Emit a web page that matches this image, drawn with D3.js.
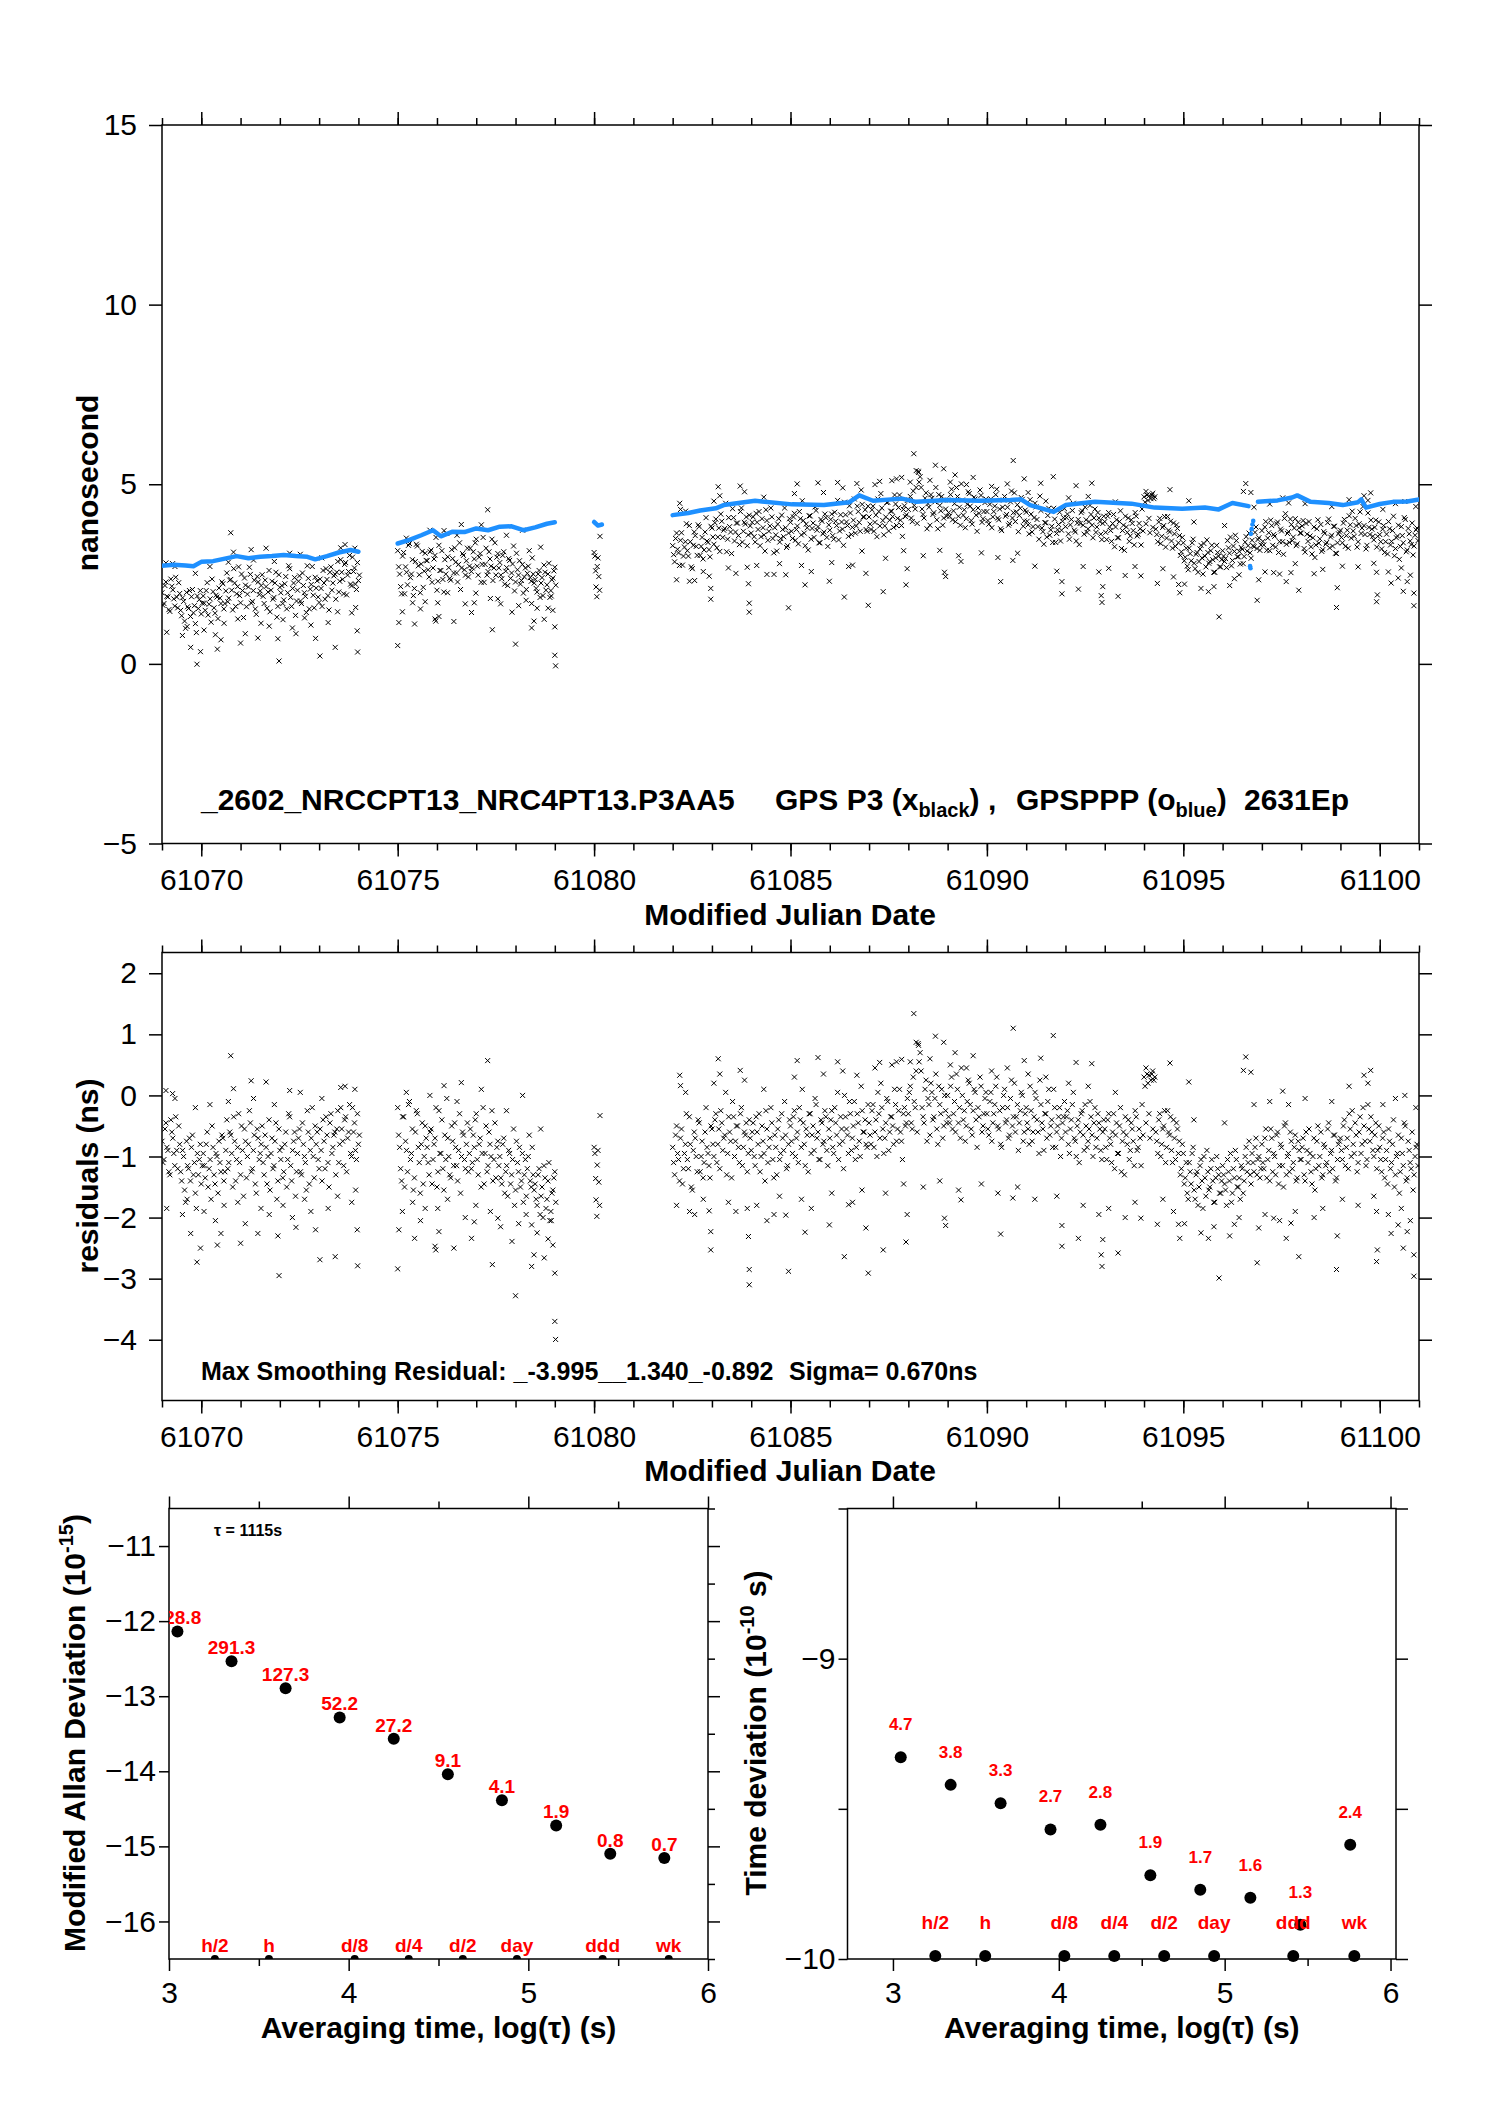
<!DOCTYPE html>
<html><head><meta charset="utf-8">
<script src="https://cdn.jsdelivr.net/npm/d3@7/dist/d3.min.js"></script>
<style>
body{margin:0;background:#fff;}
svg{display:block;background:#fff;}
text{white-space:pre;}
</style></head><body>
<svg id="chart" width="1488" height="2105"></svg>
<script>
// ---------------- DATA ----------------
const mjdDomain=[61069,61101];
const mjdTickLabels=[61070,61075,61080,61085,61090,61095,61100];
const topYDomain=[-5,15];
const topYTicks=[15,10,5,0,-5];
const residYTicks=[2,1,0,-1,-2,-3,-4];
const resStep=0.05;

// Smoothing residuals (P3 - PPP), ns, regular 0.05 d sampling per segment
const resSeg1Start=61069.0;
const resSeg1=[-0.75,-1.05,-0.45,-0.90,-1.30,-0.60,-0.95,-0.35,-1.20,
-0.80,-1.40,-1.00,-1.75,-1.15,-0.70,-0.85,-1.30,-1.60,-0.95,-1.05,-1.45,
-0.95,-1.35,-0.60,-1.20,-1.70,-0.85,-1.45,-1.00,-0.75,-1.25,-0.70,-1.25,
-0.40,-1.10,-0.65,-1.50,-0.75,-1.05,-0.30,-1.30,-0.90,-0.55,-1.35,-0.80,-0.45,-1.20,-0.65,-1.60,-0.70,-0.95,
-0.50,-1.30,-0.85,-1.00,-1.55,-0.70,-1.15,-0.45,-1.40,-0.90,-0.85,-1.25,-0.60,-1.05,-0.35,-1.40,-0.75,-1.65,
-0.95,-0.55,-1.30,-0.80,-1.10,-0.25,-1.45,-0.70,-1.00,-0.50,-0.60,-1.20,-0.90,-0.40,-1.20,-0.65,
-1.50,-0.30,-0.85,-0.60,-0.55,-1.10,-0.20,-0.75,-0.40,-1.25,-0.60,-0.95,-0.20,-0.45,-1.05,-0.80];
const resSeg1bStart=61069.025;
const resSeg1b=[-1.10,-0.55,-0.85,-1.25,-0.40,-0.70,-1.15,-0.90,-0.50,
-1.25,-0.90,-1.55,-0.75,-1.20,-1.40,-0.65,-1.10,-1.85,-1.30,-0.80,-1.15,
-1.15,-0.80,-1.50,-1.05,-0.50,-1.30,-0.95,-1.60,-1.10,-0.65,-1.40,-0.90,
-1.20,-0.60,-0.95,-0.35,-1.40,-0.85,-1.10,-0.50,-1.65,-0.75,-1.00,-0.25,-1.25,-0.90,-1.45,-0.55,-1.05,-0.80,
-1.10,-0.65,-1.45,-0.40,-0.95,-1.20,-0.75,-1.70,-0.55,-1.05,-1.35,-0.80,-1.50,-0.30,-1.15,-0.90,-0.60,-1.25,
-0.70,-1.25,-0.45,-1.00,-1.55,-0.60,-0.90,-0.20,-1.35,-0.80,-1.05,-0.55,-1.40,-0.75,-0.35,-1.10,
-0.45,-0.95,-0.65,-1.30,-0.25,-0.80,-0.55,-1.15,-0.35,-0.70,-0.15,-1.00,-0.60,-0.90,-0.30,-0.65];
const resSeg2Start=61075.0;
const resSeg2=[-0.20,-0.85,-1.40,-0.35,-0.75,-1.25,-0.10,-0.95,-1.55,-0.60,-0.30,-1.10,-0.80,-1.45,-0.50,
-0.85,-1.30,-0.55,-1.05,-0.70,-1.50,-0.25,-0.95,-1.20,-0.65,-0.05,-1.00,-1.35,-0.75,-0.45,-1.15,-0.90,-1.60,-0.60,-1.05,-0.80,-1.25,
-0.55,-1.10,-0.85,-0.30,-1.30,-0.70,-0.95,-1.45,-0.50,-1.15,-0.80,-0.25,-1.05,-1.35,-0.75,
-1.00,-1.45,-0.70,-1.25,-1.65,-0.95,-1.30,-0.55,-1.55,-1.10,-0.85,-1.40,-1.75,-1.05,-1.20,-0.65,-1.50,-1.30,
-1.45,-1.80,-1.20,-1.65,-2.00,-1.35,-1.70,-1.10,-1.90,-1.55,-1.25];
const resSeg2bStart=61075.025;
const resSeg2b=[-0.65,-1.20,-0.35,-1.50,-0.90,-0.15,-1.05,-0.55,-1.35,-0.25,-0.85,-1.60,-0.45,-1.00,-0.70,
-1.10,-0.60,-1.45,-0.80,-0.20,-1.25,-0.95,-0.40,-1.55,-1.05,-0.70,-1.30,-0.50,-1.15,-0.85,-1.40,-0.30,-1.00,-0.65,-1.20,-0.45,-0.95,
-1.20,-0.65,-0.40,-1.05,-0.80,-1.50,-0.20,-0.95,-1.25,-0.60,-1.00,-1.40,-0.45,-0.85,-1.15,
-1.35,-0.80,-1.60,-1.15,-0.90,-1.45,-1.05,-1.80,-0.75,-1.25,-1.50,-0.95,-1.30,-1.65,-1.00,-1.40,-0.85,-1.55,
-1.70,-1.30,-1.95,-1.50,-1.15,-1.85,-1.40,-2.05,-1.60,-1.35,-1.75];
const resSeg3=[[61080.00,-0.85],[61080.02,-0.95],[61080.04,-1.36],[61080.05,-1.71],[61080.07,-1.98],
[61080.08,-1.14],[61080.10,-0.90],[61080.12,-1.42],[61080.14,-1.80],[61080.15,-0.33]];
const resSeg4Start=61082.0;
const resSeg4=[
-0.85,-1.30,-0.50,-1.05,-0.70,-1.45,-0.95,-0.30,-1.20,-0.80,-1.55,-0.60,-1.00,-0.40,-1.25,-0.75,-1.10,-0.20,-0.95,-1.35,
-0.55,-1.00,-0.30,-0.80,-1.20,-0.45,-0.70,0.05,-0.95,-0.60,-1.35,-0.35,-0.75,-0.50,-1.10,-0.20,-0.85,-0.65,-1.25,-0.40,
-0.90,-0.45,-1.15,-0.60,-0.30,-1.00,-0.75,-1.40,-0.55,-0.85,-0.20,-1.05,-0.65,-1.30,-0.40,-0.95,-0.70,-0.10,-1.20,-0.80,
-0.50,-0.95,-0.25,-0.70,-1.10,-0.40,0.10,-0.80,-0.55,-1.25,-0.30,-0.65,-0.90,-0.15,-0.60,-1.05,-0.45,-0.75,-0.35,-1.15,
-0.70,-0.25,-0.95,-0.45,0.05,-0.80,-0.55,-1.20,-0.35,-0.65,-0.10,-0.90,-0.50,-1.05,-0.30,-0.75,0.15,-0.60,-0.40,-0.85,
-0.45,-0.80,-0.15,-0.60,-1.00,-0.30,0.20,-0.55,-0.70,-0.05,-0.90,-0.35,-0.50,0.10,-0.75,-0.25,-0.60,-1.05,-0.20,-0.45,
-0.30,0.15,-0.55,-0.10,0.40,0.85,0.70,-0.20,-0.45,0.25,-0.05,-0.65,0.05,-0.35,0.35,-0.80,-0.15,0.10,-0.50,-0.25,
0.00,-0.45,0.30,-0.30,-0.60,0.10,-0.20,0.45,-0.40,-0.75,-0.10,0.20,-0.55,-0.25,0.05,-0.85,-0.35,0.15,-0.50,-0.05,
-0.30,-0.65,0.05,-0.45,-0.15,0.30,-0.55,-0.80,-0.20,0.10,-0.40,-0.70,-0.05,-0.50,0.20,-0.35,-0.90,-0.25,0.00,-0.60,
-0.20,-0.55,0.15,-0.75,-0.35,-0.05,-0.60,0.25,-0.45,-0.90,-0.30,-0.10,-0.65,-0.40,0.10,-0.85,-0.50,-0.20,-0.70,-0.35,
-0.60,-0.25,-0.95,-0.40,0.05,-0.75,-0.50,-1.10,-0.30,-0.65,-0.15,-0.85,-0.55,-0.35,-1.00,-0.20,-0.70,-0.45,-0.90,-0.60,
-0.55,-1.05,-0.30,-0.80,-0.60,-1.20,-0.45,-0.95,-0.20,-0.75,-1.30,-0.65,-0.40,-0.90,-0.55,-1.15,-0.35,-0.85,-0.70,-0.15,
0.30,-0.45,0.20,-0.70,0.35,0.25,-0.60,-0.95,-0.30,-0.80,-0.50,-1.10,-0.25,-0.65,-0.90,-0.40,-1.05,-0.55,-0.75,-1.20,
-0.95,-1.35,-1.60,-1.10,-1.45,-0.85,-1.70,-1.25,-1.50,-1.05,-1.85,-1.35,-0.90,-1.55,-1.20,-1.40,-1.75,-1.00,-1.30,-1.60,
-1.15,-1.45,-1.80,-1.25,-0.95,-1.60,-1.35,-1.05,-1.50,-1.70,-1.20,-1.40,-0.85,-1.10,-1.30,-0.95,-1.25,-0.70,-1.05,-1.35,
-0.80,-1.20,-0.55,-1.05,-1.40,-0.70,-0.95,-1.30,-0.60,-1.15,-0.85,-1.50,-0.45,-1.00,-1.25,-0.75,-1.10,-0.65,-1.35,-0.90,
-1.05,-0.70,-1.40,-0.90,-0.55,-1.25,-1.00,-1.55,-0.75,-1.15,-0.60,-1.30,-0.85,-1.10,-0.45,-0.95,-1.20,-0.65,-1.35,-0.80,
-0.70,-1.05,-0.40,-0.85,-1.20,-0.55,-0.25,-0.95,-0.65,-1.10,-0.35,-0.80,-0.50,-1.15,-0.15,-0.75,-0.60,-1.00,-0.45,-0.90,
-0.85,-1.25,-0.60,-1.05,-1.45,-0.75,-1.10,-0.40,-1.30,-0.95,-1.60,-0.70,-1.15,-0.50,-1.35,-0.90,-1.20,-1.55,-1.00,-0.80];
const resSeg4bStart=61082.025;
const resSeg4b=[
-1.10,-0.65,-0.95,-1.40,-0.55,-1.20,-0.80,-1.05,-0.35,-1.50,-0.90,-0.70,-1.25,-0.45,-1.00,-1.35,-0.60,-0.85,-1.15,-0.50,
-0.80,-0.40,-1.10,-0.55,-0.25,-0.90,-0.65,-1.30,-0.35,-0.75,-0.10,-1.00,-0.50,-0.85,-0.30,-1.15,-0.60,-0.45,-0.95,-0.70,
-0.60,-1.00,-0.35,-0.80,-1.25,-0.50,-0.95,-0.25,-1.10,-0.70,-0.45,-1.35,-0.85,-0.55,-1.05,-0.30,-0.90,-0.65,-1.15,-0.40,
-0.75,-0.35,-1.00,-0.60,-0.20,-0.85,-0.45,-1.15,-0.65,-0.30,-0.95,-0.50,-0.05,-0.70,-1.05,-0.40,-0.80,-0.25,-0.90,-0.55,
-0.40,-0.85,-0.20,-0.65,-1.05,-0.35,-0.75,0.00,-0.55,-0.95,-0.30,-0.70,-0.10,-0.85,-0.45,-1.00,-0.25,-0.60,-0.80,-0.15,
-0.65,-0.25,-0.85,-0.40,0.05,-0.70,-0.20,-0.95,-0.45,-0.10,-0.60,-0.35,-0.80,-0.15,-0.55,0.10,-0.75,-0.30,-0.50,-0.05,
0.05,-0.45,0.30,-0.20,-0.60,0.55,0.40,-0.35,0.10,-0.75,-0.15,0.20,-0.40,-0.05,-0.55,0.15,-0.30,-0.70,0.00,-0.45,
-0.35,0.15,-0.55,-0.10,0.35,-0.45,-0.70,0.00,-0.25,-0.50,0.25,-0.15,-0.65,0.10,-0.40,-0.20,0.30,-0.60,-0.30,0.05,
-0.55,-0.10,-0.75,-0.30,0.15,-0.50,-0.25,-0.85,0.00,-0.45,-0.20,-0.65,0.25,-0.35,-0.60,-0.15,-0.45,0.05,-0.75,-0.30,
-0.45,-0.80,-0.25,-0.60,0.05,-0.40,-0.95,-0.15,-0.55,-0.30,-0.70,0.10,-0.50,-0.85,-0.20,-0.60,-0.35,-1.00,-0.45,-0.10,
-0.35,-0.80,-0.55,-0.15,-0.70,-1.00,-0.40,-0.60,-0.25,-0.90,-0.50,-0.75,-0.10,-0.65,-0.45,-0.85,-0.30,-0.55,-1.05,-0.40,
-0.85,-0.40,-0.70,-1.10,-0.30,-0.65,-0.95,-0.50,-1.25,-0.60,-0.35,-0.80,-1.05,-0.45,-0.75,-0.25,-0.90,-0.55,-1.15,-0.65,
0.15,0.35,-0.30,0.25,-0.55,0.30,-0.75,-0.40,-1.00,-0.55,-0.25,-0.85,-0.60,-0.35,-1.10,-0.70,-0.45,-0.95,-1.30,-0.80,
-1.45,-1.10,-1.70,-1.25,-0.95,-1.55,-1.30,-1.80,-1.15,-1.40,-1.00,-1.65,-1.25,-1.50,-1.05,-1.75,-1.35,-1.20,-1.60,-1.40,
-1.30,-1.55,-1.05,-1.40,-1.75,-1.20,-0.90,-1.50,-1.35,-1.15,-1.60,-1.00,-1.25,-0.75,-1.45,-1.10,-0.85,-1.30,-1.00,-1.20,
-1.10,-0.70,-1.35,-0.90,-0.55,-1.25,-1.00,-0.65,-1.45,-0.80,-1.15,-0.50,-1.30,-0.95,-0.60,-1.20,-0.85,-1.40,-0.75,-1.05,
-0.85,-1.30,-0.60,-1.10,-0.95,-1.45,-0.70,-1.20,-0.50,-1.00,-1.35,-0.80,-1.15,-0.55,-1.25,-0.90,-0.65,-1.40,-1.05,-0.75,
-0.90,-0.50,-1.15,-0.70,-0.30,-1.00,-0.80,-0.45,-1.25,-0.60,-0.95,-0.20,-0.75,-1.05,-0.55,-0.35,-0.90,-0.65,-1.20,-0.50,
-1.05,-0.70,-1.35,-0.90,-0.55,-1.20,-0.80,-1.50,-1.00,-0.65,-1.25,-0.95,-0.45,-1.40,-0.75,-1.10,-0.60,-1.30,-0.85,-1.15];
// points in the wider fringe of the cloud [MJD, ns]
const resModerate=[
[61069.12,-1.85],[61069.33,-0.05],[61069.52,-1.95],[61069.64,-1.70],[61069.85,-0.20],[61070.07,-1.90],[61070.22,-0.15],
[61070.36,-2.05],[61070.58,-1.80],[61070.69,-0.10],[61070.93,-1.75],[61071.12,-2.10],[61071.33,-0.05],[61071.52,-1.85],
[61071.73,-1.95],[61071.86,-0.15],[61072.08,-1.80],[61072.32,-2.00],[61072.52,0.05],[61072.63,-1.70],[61072.79,-1.90],
[61073.07,-0.05],[61073.23,-1.85],[61073.47,-1.65],[61073.66,0.15],[61073.83,-1.75],[61073.93,-1.55],
[61075.12,-1.90],[61075.22,0.05],[61075.38,-1.75],[61075.58,-2.05],[61075.82,0.00],[61076.02,-1.85],[61076.27,-1.70],
[61076.51,-0.10],[61076.72,-2.00],[61076.99,-1.80],[61077.13,0.10],[61077.36,-1.90],[61077.62,-2.15],[61077.77,-0.25],
[61078.08,-2.10],[61078.27,-1.95],[61078.55,-2.25],[61078.64,-0.55],[61078.83,-2.35],[61078.91,-2.05],
[61082.10,-1.80],[61082.33,0.05],[61082.56,-1.95],[61082.78,-1.70],[61083.05,0.20],[61083.42,-1.75],[61083.61,-1.90],
[61083.83,0.25],[61084.14,-1.80],[61084.32,0.10],[61084.58,-1.95],[61084.72,-1.65],[61085.10,0.30],[61085.28,-1.70],
[61085.53,-1.85],[61085.84,0.35],[61086.05,-1.60],[61086.33,0.40],[61086.58,-1.75],[61086.82,-1.55],[61087.15,0.45],
[61087.42,-1.60],[61087.58,0.50],[61087.88,-1.45],[61088.05,0.55],[61088.38,-1.50],[61088.55,0.60],[61088.80,-1.40],
[61089.07,0.50],[61089.28,-1.55],[61089.48,0.45],[61089.86,-1.45],[61090.12,0.40],[61090.28,-1.60],[61090.52,0.45],
[61090.78,-1.50],[61091.05,0.35],[61091.22,-1.70],[61091.50,0.30],[61091.78,-1.65],[61092.08,0.20],[61092.45,-1.80],
[61092.58,0.15],[61092.85,-1.95],[61093.10,-1.85],[61093.27,0.05],[61093.52,-2.00],[61093.77,-1.75],[61094.05,0.45],
[61094.22,0.40],[61094.48,-1.70],[61094.75,-1.90],[61095.03,-2.10],[61095.27,-0.40],[61095.45,-2.25],[61095.78,-2.15],
[61096.05,-0.45],[61096.18,-2.30],[61096.42,-2.00],[61096.80,-0.15],[61097.08,-1.95],[61097.20,-0.10],[61097.45,-2.05],
[61097.68,-0.15],[61097.85,-1.90],[61098.10,-0.05],[61098.33,-2.00],[61098.55,-1.85],[61098.78,-0.10],[61099.05,-1.70],
[61099.22,0.15],[61099.45,-1.80],[61099.70,0.20],[61099.85,-1.65],[61100.08,-0.15],[61100.22,-1.95],[61100.40,-0.05],
[61100.55,-1.85],[61100.78,-2.05],[61100.92,-0.20]];
// individually visible outlying residuals [MJD, ns]
const resOutliers=[
[61069.10,0.08],[61069.27,0.03],[61069.73,-2.26],[61069.89,-2.73],[61069.98,-2.50],[61070.41,-2.45],[61070.50,-2.26],
[61070.75,0.65],[61070.82,0.11],[61071.00,-2.42],[61071.27,0.24],[61071.44,-2.26],[61071.65,0.22],[61071.95,-2.30],
[61071.98,-2.95],[61072.25,0.08],[61072.41,-2.16],[61072.91,-2.20],[61073.02,-2.69],[61073.41,-2.64],[61073.55,0.13],
[61073.91,0.10],[61073.97,-2.20],[61073.98,-2.79],
[61075.00,-2.84],[61075.03,-2.20],[61075.43,-2.34],[61075.70,-1.85],[61075.95,-2.47],[61075.97,-2.53],[61076.05,-2.23],
[61076.18,0.16],[61076.43,-2.50],[61076.62,0.21],[61076.88,-2.34],[61076.95,-2.07],[61077.29,0.57],[61077.41,-2.77],
[61077.55,-2.01],[61077.91,-2.39],[61078.00,-3.28],[61078.18,0.00],[61078.41,-2.80],[61078.41,-2.12],[61078.47,-2.61],
[61078.73,-2.66],[61078.95,-2.45],[61079.00,-2.91],[61079.00,-3.70],[61079.02,-3.995],
[61082.18,0.33],[61082.20,0.16],[61082.43,-1.90],[61082.93,-1.89],[61082.97,-2.23],[61082.97,-2.53],[61083.16,0.60],
[61083.20,0.35],[61083.72,0.41],[61083.90,-1.85],[61083.93,-2.31],[61083.95,-2.85],[61083.95,-3.10],[61084.40,-2.05],
[61084.88,-1.96],[61084.95,-2.88],[61085.17,0.57],[61085.37,-2.24],[61085.70,0.62],[61085.99,-2.12],[61086.20,0.55],
[61086.37,-2.64],[61086.48,-1.79],[61086.69,0.33],[61086.92,-2.17],[61086.98,-2.91],[61087.27,0.54],[61087.36,-2.53],
[61087.70,0.55],[61087.83,0.59],[61087.94,-2.40],[61087.97,-1.95],[61088.14,1.34],[61088.20,0.87],[61088.26,0.82],
[61088.69,0.97],[61088.90,0.87],[61088.92,-2.01],[61088.95,-2.13],[61089.19,0.70],[61089.34,-1.71],[61089.65,0.65],
[61090.35,-2.27],[61090.66,-1.68],[61090.67,1.10],[61090.95,0.57],[61091.37,0.61],[61091.69,0.98],[61091.91,-2.13],
[61091.91,-2.47],[61092.27,0.54],[61092.33,-2.34],[61092.67,0.52],[61092.91,-2.61],[61092.93,-2.80],[61092.95,-2.36],
[61093.34,-2.58],[61093.92,-2.01],[61094.13,0.33],[61094.34,-2.11],[61094.66,0.53],[61094.88,-2.11],[61094.91,-2.34],
[61095.14,0.22],[61095.64,-2.34],[61095.91,-2.99],[61096.30,-2.11],[61096.53,0.41],[61096.59,0.63],[61096.72,0.38],
[61096.88,-2.74],[61096.92,-2.17],[61097.30,-2.01],[61097.53,0.07],[61097.62,-2.34],[61097.74,-2.09],[61097.94,-2.64],
[61098.90,-2.85],[61098.92,-2.30],[61099.60,0.33],[61099.77,0.41],[61099.92,-1.90],[61099.92,-2.72],[61099.94,-2.53],
[61100.29,-2.26],[61100.47,-2.12],[61100.60,-2.50],[61100.64,0.00],[61100.70,-2.23],[61100.87,-2.61],[61100.87,-2.96]];

// GPSPPP (blue) series [MJD, ns], per continuous segment
const pppSeg1=[[61069.0,2.73],[61069.3,2.76],[61069.6,2.74],[61069.8,2.72],[61070.0,2.84],[61070.3,2.86],[61070.6,2.93],
[61070.9,3.00],[61071.2,2.94],[61071.5,2.98],[61071.8,3.00],[61072.1,3.03],[61072.4,3.00],[61072.7,2.98],[61072.9,2.91],
[61073.2,3.00],[61073.5,3.10],[61073.8,3.17],[61074.0,3.12]];
const pppSeg2=[[61075.0,3.35],[61075.3,3.45],[61075.6,3.58],[61075.9,3.72],[61076.1,3.55],[61076.4,3.68],[61076.7,3.67],
[61077.0,3.77],[61077.3,3.72],[61077.6,3.82],[61077.9,3.83],[61078.2,3.72],[61078.5,3.80],[61078.8,3.90],[61079.0,3.94]];
const pppSeg3=[[61080.0,3.95],[61080.1,3.85],[61080.2,3.88]];
const pppSeg4=[[61082.0,4.14],[61082.4,4.20],[61082.7,4.27],[61083.1,4.33],[61083.3,4.42],[61084.1,4.54],[61085.04,4.44],
[61085.85,4.42],[61086.5,4.50],[61086.75,4.69],[61087.1,4.54],[61087.84,4.60],[61088.2,4.51],[61089.0,4.56],[61089.8,4.54],
[61090.6,4.56],[61090.87,4.58],[61091.1,4.42],[61091.7,4.23],[61092.0,4.42],[61092.75,4.51],[61093.68,4.46],[61094.27,4.35],
[61094.97,4.32],[61095.55,4.35],[61095.9,4.30],[61096.25,4.48],[61096.66,4.39]];
const pppSeg5=[[61096.9,4.51],[61097.4,4.55],[61097.77,4.63],[61097.9,4.69],[61098.24,4.51],[61098.7,4.48],[61099.06,4.42],
[61099.45,4.50],[61099.53,4.58],[61099.65,4.35],[61100.0,4.45],[61100.34,4.51],[61100.7,4.52],[61101.0,4.58]];
const pppStray=[[61096.70,2.72],[61096.71,2.66],[61096.72,3.62],[61096.74,3.75],[61096.76,3.88],[61096.78,3.98]];

// Stability panels
const tauLog=[3.047,3.348,3.649,3.950,4.251,4.552,4.853,5.155,5.456,5.757];
const adevValues=[728.8,291.3,127.3,52.2,27.2,9.1,4.1,1.9,0.8,0.7];      // 1e-15
const tdevValues=[4.7,3.8,3.3,2.7,2.8,1.9,1.7,1.6,1.3,2.4];              // 1e-10 s
const markerNames=["h/2","h","d/8","d/4","d/2","day","ddd","wk"];
const markerSeconds=[1800,3600,10800,21600,43200,86400,259200,604800];
const adevXDomain=[3,6], adevYDomain=[-16.5,-10.5];
const adevYTicks=[-11,-12,-13,-14,-15,-16];
const adevYMinor=[-10.5,-11.5,-12.5,-13.5,-14.5,-15.5,-16.5];
const tdevXDomain=[2.726,6.033], tdevYDomain=[-10,-8.5];
const tdevYTicks=[-9,-10], tdevYMinor=[-8.5,-9.5];
const tdevMarkerLevel=-9.99;
const logTauTicks=[3,4,5,6], logTauMinor=[3.5,4.5,5.5];

// ---------------- LAYOUT ----------------
const FONT='"Liberation Sans", Arial, Helvetica, sans-serif';
const BLUE="#1E90FF", RED="#FF0000";
const topP={l:162,r:1419,t:125,b:843.5};
const midP={l:162,r:1419,t:952.5,b:1400.5};
const adP={l:169,r:708,t:1508.5,b:1959};
const tdP={l:847.5,r:1396,t:1508.5,b:1959};

const svg=d3.select("#chart").attr("font-family",FONT);
const defs=svg.append("defs");
function clip(id,P){defs.append("clipPath").attr("id",id).append("rect")
  .attr("x",P.l).attr("y",P.t).attr("width",P.r-P.l).attr("height",P.b-P.t);}
clip("cTop",topP);clip("cMid",midP);clip("cAd",adP);

function styleAxis(a,size){
  a.select(".domain").remove();
  a.attr("font-family",FONT).attr("font-size",size);
  a.selectAll("line").attr("stroke","#000").attr("stroke-width",1.5);
  a.selectAll("text").filter(function(){return !this.textContent;}).remove();
  a.selectAll("text").attr("fill","#000");
  return a;
}
function frame(P){svg.append("rect").attr("x",P.l).attr("y",P.t).attr("width",P.r-P.l).attr("height",P.b-P.t)
  .attr("fill","none").attr("stroke","#000").attr("stroke-width",1.5);}

const fmtInt=d3.format("d");
function mjdPanel(P,y,yTicks){
  const x=d3.scaleLinear().domain(mjdDomain).range([P.l,P.r]);
  const days=d3.range(mjdDomain[0],mjdDomain[1]+1);
  styleAxis(svg.append("g").attr("transform",`translate(0,${P.b})`)
    .call(d3.axisBottom(x).tickValues(days).tickSize(7).tickFormat("")),30);
  styleAxis(svg.append("g").attr("transform",`translate(0,${P.b})`)
    .call(d3.axisBottom(x).tickValues(mjdTickLabels).tickSize(13).tickPadding(12).tickFormat(fmtInt)),30);
  styleAxis(svg.append("g").attr("transform",`translate(0,${P.t})`)
    .call(d3.axisTop(x).tickValues(days).tickSize(7).tickFormat("")),30);
  styleAxis(svg.append("g").attr("transform",`translate(0,${P.t})`)
    .call(d3.axisTop(x).tickValues(mjdTickLabels).tickSize(13).tickFormat("")),30);
  styleAxis(svg.append("g").attr("transform",`translate(${P.l},0)`)
    .call(d3.axisLeft(y).tickValues(yTicks).tickSize(13).tickPadding(12).tickFormat(fmtInt)),30);
  styleAxis(svg.append("g").attr("transform",`translate(${P.r},0)`)
    .call(d3.axisRight(y).tickValues(yTicks).tickSize(13).tickFormat("")),30);
  frame(P);
  return x;
}

// ---------------- DERIVED POINTS ----------------
const pppAll=[].concat(pppSeg1,pppSeg2,pppSeg3,pppSeg4,pppSeg5).sort((a,b)=>a[0]-b[0]);
const bis=d3.bisector(d=>d[0]);
const pppAt=t=>pppAll[bis.center(pppAll,t)][1];
const seq=(start,vals)=>vals.map((v,i)=>({t:start+i*resStep,r:v}));
const pairs=arr=>arr.map(([t,r])=>({t,r}));
const points=[].concat(
  seq(resSeg1Start,resSeg1),seq(resSeg1bStart,resSeg1b),
  seq(resSeg2Start,resSeg2),seq(resSeg2bStart,resSeg2b),
  pairs(resSeg3),
  seq(resSeg4Start,resSeg4),seq(resSeg4bStart,resSeg4b),
  pairs(resModerate),pairs(resOutliers));
points.forEach(d=>{d.p3=pppAt(d.t)+d.r;});   // GPS P3 = PPP + residual

const crossPath="M-2.5,-2.5L2.5,2.5M-2.5,2.5L2.5,-2.5";

// ---------------- TOP PANEL ----------------
const yTop=d3.scaleLinear().domain(topYDomain).range([topP.b,topP.t]);
const xTop=mjdPanel(topP,yTop,topYTicks);
const gTop=svg.append("g").attr("clip-path","url(#cTop)");
gTop.append("g").selectAll("path").data(points).join("path")
  .attr("d",crossPath).attr("transform",d=>`translate(${xTop(d.t)},${yTop(d.p3)})`)
  .attr("stroke","#000").attr("stroke-width",1).attr("fill","none");
const line=d3.line().x(d=>xTop(d[0])).y(d=>yTop(d[1]));
gTop.append("g").selectAll("path").data([pppSeg1,pppSeg2,pppSeg3,pppSeg4,pppSeg5]).join("path")
  .attr("d",line).attr("fill","none").attr("stroke",BLUE).attr("stroke-width",4.5)
  .attr("stroke-linejoin","round").attr("stroke-linecap","round");
gTop.append("g").selectAll("circle").data(pppStray).join("circle")
  .attr("cx",d=>xTop(d[0])).attr("cy",d=>yTop(d[1])).attr("r",2.3).attr("fill",BLUE);

svg.append("text").attr("transform","translate(98,483) rotate(-90)").attr("text-anchor","middle")
  .attr("font-weight","bold").attr("font-size",30).text("nanosecond");
svg.append("text").attr("x",790).attr("y",925).attr("text-anchor","middle")
  .attr("font-weight","bold").attr("font-size",30).text("Modified Julian Date");
const ann=svg.append("text").attr("y",810).attr("font-weight","bold").attr("font-size",30);
ann.append("tspan").attr("x",201).text("_2602_NRCCPT13_NRC4PT13.P3AA5");
ann.append("tspan").attr("x",775).text("GPS P3 (x");
ann.append("tspan").attr("font-size",20).attr("dy",7).text("black");
ann.append("tspan").attr("dy",-7).text(") ,");
ann.append("tspan").attr("x",1016).text("GPSPPP (o");
ann.append("tspan").attr("font-size",20).attr("dy",7).text("blue");
ann.append("tspan").attr("dy",-7).text(")");
ann.append("tspan").attr("x",1244).text("2631Ep");

// ---------------- MIDDLE PANEL ----------------
const rExt=d3.extent(points,d=>d.r);
const yMid=d3.scaleLinear().domain([rExt[0]-1,rExt[1]+1]).range([midP.b,midP.t]);
const xMid=mjdPanel(midP,yMid,residYTicks);
const gMid=svg.append("g").attr("clip-path","url(#cMid)");
gMid.selectAll("path").data(points).join("path")
  .attr("d",crossPath).attr("transform",d=>`translate(${xMid(d.t)},${yMid(d.r)})`)
  .attr("stroke","#000").attr("stroke-width",1).attr("fill","none");
svg.append("text").attr("transform","translate(98,1176) rotate(-90)").attr("text-anchor","middle")
  .attr("font-weight","bold").attr("font-size",30).text("residuals (ns)");
svg.append("text").attr("x",790).attr("y",1481).attr("text-anchor","middle")
  .attr("font-weight","bold").attr("font-size",30).text("Modified Julian Date");
const ann2=svg.append("text").attr("y",1380).attr("font-weight","bold").attr("font-size",25);
ann2.append("tspan").attr("x",201).text("Max Smoothing Residual: _-3.995__1.340_-0.892");
ann2.append("tspan").attr("x",789).text("Sigma= 0.670ns");

// ---------------- STABILITY PANELS ----------------
function stabAxes(P,x,y,major,minorL,minorR,lenL,lenR,lenRminor,padL){
  styleAxis(svg.append("g").attr("transform",`translate(0,${P.b})`)
    .call(d3.axisBottom(x).tickValues(logTauTicks).tickSize(12).tickPadding(11).tickFormat(fmtInt)),30);
  styleAxis(svg.append("g").attr("transform",`translate(0,${P.b})`)
    .call(d3.axisBottom(x).tickValues(logTauMinor).tickSize(7).tickFormat("")),30);
  styleAxis(svg.append("g").attr("transform",`translate(0,${P.t})`)
    .call(d3.axisTop(x).tickValues(logTauTicks).tickSize(12).tickFormat("")),30);
  styleAxis(svg.append("g").attr("transform",`translate(0,${P.t})`)
    .call(d3.axisTop(x).tickValues(logTauMinor).tickSize(7).tickFormat("")),30);
  styleAxis(svg.append("g").attr("transform",`translate(${P.l},0)`)
    .call(d3.axisLeft(y).tickValues(major).tickSize(lenL).tickPadding(padL).tickFormat(fmtInt)),30);
  if(minorL.length) styleAxis(svg.append("g").attr("transform",`translate(${P.l},0)`)
    .call(d3.axisLeft(y).tickValues(minorL).tickSize(lenL).tickFormat("")),30);
  styleAxis(svg.append("g").attr("transform",`translate(${P.r},0)`)
    .call(d3.axisRight(y).tickValues(major).tickSize(lenR).tickFormat("")),30);
  styleAxis(svg.append("g").attr("transform",`translate(${P.r},0)`)
    .call(d3.axisRight(y).tickValues(minorR).tickSize(lenRminor).tickFormat("")),30);
  frame(P);
}
const fmt1=d3.format(".1f");

// ADEV
const xA=d3.scaleLinear().domain(adevXDomain).range([adP.l,adP.r]);
const yA=d3.scaleLinear().domain(adevYDomain).range([adP.b,adP.t]);
stabAxes(adP,xA,yA,adevYTicks,[],adevYMinor,10,12,7,3);
const adev=tauLog.map((t,i)=>({x:t,y:Math.log10(adevValues[i]*1e-15),v:adevValues[i]}));
const gA=svg.append("g").attr("clip-path","url(#cAd)");
gA.selectAll("circle.d").data(adev).join("circle").attr("class","d")
  .attr("cx",d=>xA(d.x)).attr("cy",d=>yA(d.y)).attr("r",6).attr("fill","#000");
gA.selectAll("text.v").data(adev).join("text").attr("class","v")
  .attr("x",d=>xA(d.x)).attr("y",d=>yA(d.y)-7).attr("text-anchor","middle")
  .attr("font-size",19).attr("font-weight","bold").attr("fill",RED).text(d=>fmt1(d.v));
const marks=markerSeconds.map((s,i)=>({x:Math.log10(s),n:markerNames[i]}));
gA.selectAll("circle.m").data(marks).join("circle").attr("class","m")
  .attr("cx",d=>xA(d.x)).attr("cy",yA(adevYDomain[0])).attr("r",4).attr("fill","#000");
svg.append("g").selectAll("text").data(marks).join("text")
  .attr("x",d=>xA(d.x)).attr("y",1952).attr("text-anchor","middle")
  .attr("font-size",19).attr("font-weight","bold").attr("fill",RED).text(d=>d.n);
svg.append("text").attr("x",214).attr("y",1536).attr("font-size",16).attr("font-weight","bold").text("τ = 1115s");
const tA=svg.append("text").attr("transform","translate(85,1733) rotate(-90)").attr("text-anchor","middle")
  .attr("font-weight","bold").attr("font-size",30);
tA.append("tspan").text("Modified Allan Deviation (10");
tA.append("tspan").attr("font-size",20).attr("dy",-12).text("-15");
tA.append("tspan").attr("dy",12).text(")");
svg.append("text").attr("x",438.5).attr("y",2038).attr("text-anchor","middle")
  .attr("font-weight","bold").attr("font-size",30).text("Averaging time, log(τ) (s)");

// TDEV
const xT=d3.scaleLinear().domain(tdevXDomain).range([tdP.l,tdP.r]);
const yT=d3.scaleLinear().domain(tdevYDomain).range([tdP.b,tdP.t]);
stabAxes(tdP,xT,yT,tdevYTicks,tdevYMinor,tdevYMinor,9,12,12,3);
const tdev=tauLog.map((t,i)=>({x:t,y:Math.log10(tdevValues[i]*1e-10),v:tdevValues[i]}));
svg.append("g").selectAll("circle").data(tdev).join("circle")
  .attr("cx",d=>xT(d.x)).attr("cy",d=>yT(d.y)).attr("r",6).attr("fill","#000");
svg.append("g").selectAll("text").data(tdev).join("text")
  .attr("x",d=>xT(d.x)).attr("y",d=>yT(d.y)-27).attr("text-anchor","middle")
  .attr("font-size",17).attr("font-weight","bold").attr("fill",RED).text(d=>fmt1(d.v));
svg.append("g").selectAll("circle").data(marks).join("circle")
  .attr("cx",d=>xT(d.x)).attr("cy",yT(tdevMarkerLevel)).attr("r",6).attr("fill","#000");
svg.append("g").selectAll("text").data(marks).join("text")
  .attr("x",d=>xT(d.x)).attr("y",1929).attr("text-anchor","middle")
  .attr("font-size",19).attr("font-weight","bold").attr("fill",RED).text(d=>d.n);
const tT=svg.append("text").attr("transform","translate(766,1733) rotate(-90)").attr("text-anchor","middle")
  .attr("font-weight","bold").attr("font-size",30);
tT.append("tspan").text("Time deviation (10");
tT.append("tspan").attr("font-size",20).attr("dy",-12).text("-10");
tT.append("tspan").attr("dy",12).text(" s)");
svg.append("text").attr("x",1121.75).attr("y",2038).attr("text-anchor","middle")
  .attr("font-weight","bold").attr("font-size",30).text("Averaging time, log(τ) (s)");
</script>
</body></html>
